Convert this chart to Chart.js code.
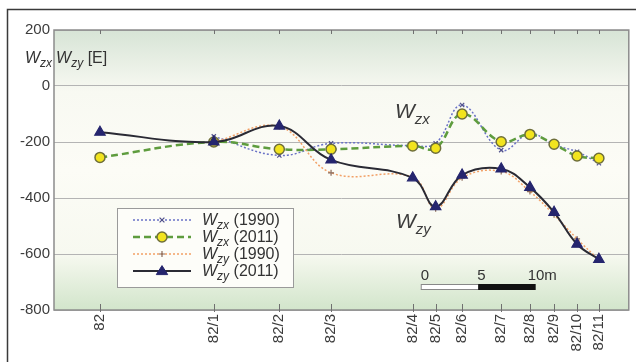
<!DOCTYPE html>
<html>
<head>
<meta charset="utf-8">
<script src="https://cdn.jsdelivr.net/npm/chart.js@4/dist/chart.umd.min.js"></script>
<style>
  html, body { margin: 0; padding: 0; background: #ffffff; }
  #wrap { width: 636px; height: 362px; position: relative; }
</style>
</head>
<body>
<div id="wrap"><canvas id="c" width="636" height="362"></canvas></div>
<script>
// Stations along the profile and their distance from station 82 (metres)
const stations  = ['82', '82/1', '82/2', '82/3', '82/4', '82/5', '82/6', '82/7', '82/8', '82/9', '82/10', '82/11'];
const distances = [0, 9.9, 15.6, 20.1, 27.2, 29.2, 31.5, 34.9, 37.4, 39.5, 41.5, 43.4];

// Gradient components in Eötvös units
const wzx1990 = [null, -180, -248, -205, -213, -205, -68, -229, -170, -210, -235, -276];
const wzx2011 = [-255, -200, -226, -226, -214, -222, -100, -199, -173, -208, -250, -258];
const wzy1990 = [null, -200, -145, -310, -325, -438, -328, -305, -377, -460, -546, -621];
const wzy2011 = [-165, -200, -143, -264, -328, -431, -318, -296, -362, -451, -565, -619];

const yTickValues = [200, 0, -200, -400, -600, -800];

// Scale bar: start position along the profile and length in metres
const scaleBarStart = 27.9;
const scaleBarLength = 10;

const FONT = "'Liberation Sans', Arial, sans-serif";

function points(values) {
  return distances.map((d, i) => ({ x: d, y: values[i] }));
}

const series = [
  { name: 'zx', year: '(1990)', data: wzx1990, line: '#6a72c6', dash: [2, 2], width: 1.5,
    style: 'crossRot', radius: 3, fill: '#50508a', stroke: '#50508a', order: 3 },
  { name: 'zx', year: '(2011)', data: wzx2011, line: '#5e9c3e', dash: [7, 4], width: 2.5,
    style: 'circle', radius: 5, fill: '#f2e41e', stroke: '#6e6e3a', order: 2 },
  { name: 'zy', year: '(1990)', data: wzy1990, line: '#f2a066', dash: [2, 2], width: 1.5,
    style: 'cross', radius: 3, fill: '#8a6a5a', stroke: '#8a6a5a', order: 1 },
  { name: 'zy', year: '(2011)', data: wzy2011, line: '#2a2a34', dash: [], width: 2,
    style: 'triangle', radius: 6, fill: '#25256e', stroke: '#25256e', order: 0 }
];

// Draws italic "W" with an italic subscript, then optional plain text
function drawW(ctx, x, y, sub, size, subSize, subDrop, rest) {
  ctx.save();
  ctx.textAlign = 'left';
  ctx.textBaseline = 'alphabetic';
  ctx.font = 'italic ' + size + 'px ' + FONT;
  ctx.fillText('W', x, y);
  let cx = x + ctx.measureText('W').width;
  ctx.font = 'italic ' + subSize + 'px ' + FONT;
  ctx.fillText(sub, cx, y + subDrop);
  cx += ctx.measureText(sub).width;
  if (rest) {
    ctx.font = size + 'px ' + FONT;
    ctx.fillText(rest, cx, y);
    cx += ctx.measureText(rest).width;
  }
  ctx.restore();
  return cx;
}

function drawMarker(ctx, s, x, y) {
  ctx.save();
  ctx.setLineDash([]);
  ctx.fillStyle = s.fill;
  ctx.strokeStyle = s.stroke;
  const r = s.radius;
  ctx.beginPath();
  if (s.style === 'circle') {
    ctx.lineWidth = 1.5;
    ctx.arc(x, y, r, 0, Math.PI * 2);
    ctx.fill(); ctx.stroke();
  } else if (s.style === 'triangle') {
    ctx.lineWidth = 1;
    const h = r * 1.5;
    ctx.moveTo(x, y - h * 0.6);
    ctx.lineTo(x + r * 0.95, y + h * 0.4);
    ctx.lineTo(x - r * 0.95, y + h * 0.4);
    ctx.closePath();
    ctx.fill(); ctx.stroke();
  } else if (s.style === 'cross') {
    ctx.lineWidth = 1.2;
    ctx.moveTo(x - r, y); ctx.lineTo(x + r, y);
    ctx.moveTo(x, y - r); ctx.lineTo(x, y + r);
    ctx.stroke();
  } else {
    ctx.lineWidth = 1.2;
    const d = r * 0.8;
    ctx.moveTo(x - d, y - d); ctx.lineTo(x + d, y + d);
    ctx.moveTo(x + d, y - d); ctx.lineTo(x - d, y + d);
    ctx.stroke();
  }
  ctx.restore();
}

const plotBackground = {
  id: 'plotBackground',
  beforeDraw(chart) {
    const { ctx, chartArea: a } = chart;
    const g = ctx.createLinearGradient(0, a.top, 0, a.bottom);
    g.addColorStop(0, '#d7e4d6');
    g.addColorStop(0.22, '#f8f9f2');
    g.addColorStop(0.5, '#fcfcf6');
    g.addColorStop(0.8, '#f7f9f0');
    g.addColorStop(1, '#d2e5cb');
    ctx.save();
    ctx.fillStyle = g;
    ctx.fillRect(a.left, a.top, a.right - a.left, a.bottom - a.top);
    ctx.restore();
  }
};

const decorations = {
  id: 'decorations',
  afterDraw(chart) {
    const { ctx, chartArea: a } = chart;
    const xs = chart.scales.x;
    ctx.save();

    // Plot frame
    ctx.strokeStyle = '#8c8c8c';
    ctx.lineWidth = 1.5;
    ctx.strokeRect(a.left, a.top, a.right - a.left, a.bottom - a.top);

    // Station tick marks on top and bottom edges
    ctx.strokeStyle = '#707070';
    ctx.lineWidth = 1;
    distances.forEach(d => {
      const px = Math.round(xs.getPixelForValue(d)) + 0.5;
      ctx.beginPath();
      ctx.moveTo(px, a.top); ctx.lineTo(px, a.top + 4);
      ctx.moveTo(px, a.bottom - 6); ctx.lineTo(px, a.bottom + 2);
      ctx.stroke();
    });

    // Outer frame
    ctx.strokeStyle = '#3a3a3a';
    ctx.lineWidth = 1.5;
    ctx.beginPath();
    ctx.moveTo(7.5, 362); ctx.lineTo(7.5, 9.5); ctx.lineTo(636, 9.5);
    ctx.stroke();

    // Axis title
    ctx.fillStyle = '#333333';
    let cx = drawW(ctx, 25, 63, 'zx', 16, 12, 4, '');
    drawW(ctx, cx + 4, 63, 'zy', 16, 12, 4, ' [E]');

    // Curve labels
    ctx.fillStyle = '#3c3c3c';
    drawW(ctx, 395, 118, 'zx', 21, 15, 6, '');
    drawW(ctx, 396, 228, 'zy', 21, 15, 6, '');

    // Scale bar
    const x0 = xs.getPixelForValue(scaleBarStart);
    const xm = xs.getPixelForValue(scaleBarStart + scaleBarLength / 2);
    const x1 = xs.getPixelForValue(scaleBarStart + scaleBarLength);
    ctx.fillStyle = '#ffffff';
    ctx.fillRect(x0, 284, xm - x0, 5);
    ctx.strokeStyle = '#888888';
    ctx.lineWidth = 1;
    ctx.strokeRect(x0 + 0.5, 284.5, xm - x0, 5);
    ctx.fillStyle = '#111111';
    ctx.fillRect(xm, 284, x1 - xm, 6);
    ctx.fillStyle = '#333333';
    ctx.font = '15px ' + FONT;
    ctx.textBaseline = 'alphabetic';
    ctx.textAlign = 'left';
    ctx.fillText('0', x0, 280);
    ctx.fillText('5', xm - 1, 280);
    ctx.fillText('10m', x1 - 8, 280);

    // Legend
    const lx = 117, ly = 208, lw = 176, lh = 79;
    ctx.fillStyle = '#fdfdf9';
    ctx.fillRect(lx, ly, lw, lh);
    ctx.strokeStyle = '#9a9a9a';
    ctx.lineWidth = 1;
    ctx.strokeRect(lx + 0.5, ly + 0.5, lw, lh);
    series.forEach((s, i) => {
      const ry = 220 + i * 17;
      ctx.save();
      ctx.strokeStyle = s.line;
      ctx.lineWidth = s.width;
      ctx.setLineDash(s.dash);
      ctx.beginPath();
      ctx.moveTo(133, ry); ctx.lineTo(191, ry);
      ctx.stroke();
      ctx.restore();
      drawMarker(ctx, s, 162, ry);
      ctx.fillStyle = '#333333';
      drawW(ctx, 202, ry + 5, s.name, 16, 12, 4, ' ' + s.year);
    });

    ctx.restore();
  }
};

new Chart(document.getElementById('c'), {
  type: 'line',
  data: {
    datasets: series.map(s => ({
      label: 'W' + s.name + ' ' + s.year,
      data: points(s.data),
      order: s.order,
      borderColor: s.line,
      borderWidth: s.width,
      borderDash: s.dash,
      tension: 0.4,
      fill: false,
      pointStyle: s.style,
      pointRadius: s.radius,
      pointBackgroundColor: s.fill,
      pointBorderColor: s.stroke,
      pointBorderWidth: s.style === 'circle' ? 1.5 : 1.2
    }))
  },
  options: {
    responsive: false,
    animation: false,
    devicePixelRatio: 1,
    layout: { padding: { left: 0, right: 7, top: 30, bottom: 0 } },
    plugins: { legend: { display: false }, tooltip: { enabled: false } },
    scales: {
      x: {
        type: 'linear',
        min: -4,
        max: 46,
        afterBuildTicks: s => { s.ticks = distances.map(v => ({ value: v })); },
        afterFit: s => { s.height = 52; },
        ticks: {
          autoSkip: false,
          minRotation: 90,
          maxRotation: 90,
          padding: 4,
          color: '#3c3c3c',
          font: { family: FONT, size: 15 },
          callback: v => stations[distances.indexOf(v)]
        },
        grid: { display: false, drawTicks: false },
        border: { display: false }
      },
      y: {
        min: -800,
        max: 200,
        afterBuildTicks: s => { s.ticks = yTickValues.map(v => ({ value: v })); },
        afterFit: s => { s.width = 54; },
        ticks: {
          padding: 4,
          color: '#3c3c3c',
          font: { family: FONT, size: 15 },
          callback: v => String(v)
        },
        grid: { color: '#b4b4b4', lineWidth: 1, drawTicks: false },
        border: { display: false }
      }
    }
  },
  plugins: [plotBackground, decorations]
});
</script>
</body>
</html>
